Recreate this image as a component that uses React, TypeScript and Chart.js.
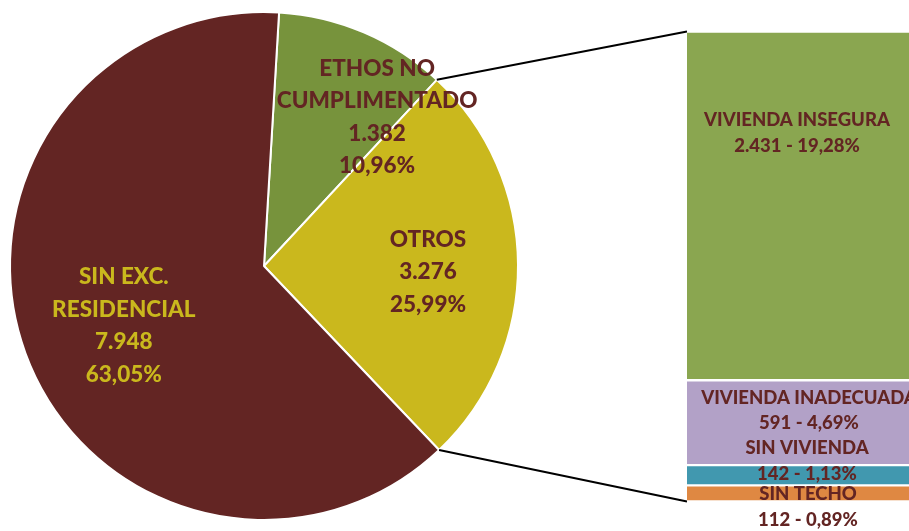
import React, { useEffect, useRef } from "react";
import { Chart, registerables } from "chart.js";

Chart.register(...registerables);

// ---- data ----
const pieCategories: string[][] = [["ETHOS NO", "CUMPLIMENTADO"], ["OTROS"], ["SIN EXC.", "RESIDENCIAL"]];
const pieValues: number[] = [1382, 3276, 7948];
const barCategories: string[] = ["SIN TECHO", "SIN VIVIENDA", "VIVIENDA INADECUADA", "VIVIENDA INSEGURA"];
const barValues: number[] = [112, 142, 591, 2431];

// ---- styles ----
const pieColors = ["#77933c", "#cab81d", "#632523"];
const pieTextColors = ["#632523", "#632523", "#cab81d"];
const barColors = ["#df8842", "#4198af", "#b2a1c7", "#8aa650"];
const TEXT_DARK = "#632523";
const FONT = "Lato, 'DejaVu Sans', sans-serif";
const W = 909;
const H = 531;
const BAR_LEFT = 687;
const BAR_WIDTH = 236;

// label anchor tweaks: [radius fraction, angle shift deg]
const pieLabelAnchors = [
  [0.736, 14.1],
  [0.646, 2.4],
  [0.6, -3],
];
// bar label tweaks: [dx, dy] relative to segment centre
const barLabelOffsets = [
  [3, 13.5],
  [2, -14],
  [4, -12],
  [-8, -73],
];

const total = pieValues.reduce((a, b) => a + b, 0);
const fmt = (n: number) => String(n).replace(/\B(?=(\d{3})+(?!\d))/g, ".");
const pct = (v: number) => ((v / total) * 100).toFixed(2).replace(".", ",") + "%";

export default function App() {
  const pieRef = useRef<HTMLCanvasElement | null>(null);
  const barRef = useRef<HTMLCanvasElement | null>(null);

  useEffect(() => {
    if (!pieRef.current || !barRef.current) return;

    const barLabelPlugin = {
      id: "barLabels",
      afterDatasetsDraw(chart: any) {
        const ctx = chart.ctx;
        ctx.save();
        ctx.font = `900 18.5px ${FONT}`;
        ctx.fillStyle = TEXT_DARK;
        ctx.textAlign = "center";
        ctx.textBaseline = "middle";
        const lh = 25.5;
        chart.data.datasets.forEach((ds: any, i: number) => {
          const el = chart.getDatasetMeta(i).data[0];
          if (!el) return;
          const cy = (el.y + el.base) / 2 + barLabelOffsets[i][1];
          const cx = el.x + barLabelOffsets[i][0];
          const lines = [ds.label, `${fmt(ds.data[0])} - ${pct(ds.data[0])}`];
          lines.forEach((t, k) => {
            ctx.fillText(t, cx, cy + (k - (lines.length - 1) / 2) * lh);
          });
        });
        ctx.restore();
      },
    };

    const barChart = new Chart(barRef.current, {
      type: "bar",
      data: {
        labels: [""],
        datasets: barCategories.map((c, i) => ({
          label: c,
          data: [barValues[i]],
          backgroundColor: barColors[i],
          borderColor: "#ffffff",
          borderWidth: { top: 1.5, bottom: 1.5, left: 0, right: 0 },
          borderSkipped: false,
          barPercentage: 1,
          categoryPercentage: 1,
        })),
      },
      options: {
        animation: false,
        responsive: false,
        layout: { padding: { top: 31.5, bottom: 29.5, left: 0, right: 0 } },
        plugins: { legend: { display: false }, tooltip: { enabled: false }, title: { display: false } },
        scales: {
          x: { stacked: true, display: false },
          y: { stacked: true, display: false, min: 0, max: barValues.reduce((a, b) => a + b, 0) },
        },
      },
      plugins: [barLabelPlugin],
    } as any);

    const pieExtras = {
      id: "pieExtras",
      afterDatasetsDraw(chart: any) {
        const ctx = chart.ctx;
        const meta = chart.getDatasetMeta(0);
        ctx.save();
        // connector lines from OTROS slice to the bar
        const arc = meta.data[1];
        const bm = barChart.getDatasetMeta(barValues.length - 1).data[0] as any;
        const bb = barChart.getDatasetMeta(0).data[0] as any;
        if (arc && bm && bb) {
          const r = arc.outerRadius;
          const p1 = [arc.x + r * Math.cos(arc.startAngle), arc.y + r * Math.sin(arc.startAngle)];
          const p2 = [arc.x + r * Math.cos(arc.endAngle), arc.y + r * Math.sin(arc.endAngle)];
          const left = BAR_LEFT + bm.x - bm.width / 2;
          ctx.strokeStyle = "#000";
          ctx.lineWidth = 2;
          ctx.beginPath();
          ctx.moveTo(p1[0], p1[1]);
          ctx.lineTo(left, bm.y);
          ctx.moveTo(p2[0], p2[1]);
          ctx.lineTo(left, bb.base);
          ctx.stroke();
        }
        // labels
        ctx.font = `900 22.5px ${FONT}`;
        ctx.textAlign = "center";
        ctx.textBaseline = "middle";
        const lh = 32.5;
        meta.data.forEach((a: any, i: number) => {
          const mid = (a.startAngle + a.endAngle) / 2 + (pieLabelAnchors[i][1] * Math.PI) / 180;
          const rr = a.outerRadius * pieLabelAnchors[i][0];
          const cx = a.x + rr * Math.cos(mid);
          const cy = a.y + rr * Math.sin(mid);
          const v = pieValues[i];
          const lines = [...pieCategories[i], fmt(v), pct(v)];
          ctx.fillStyle = pieTextColors[i];
          lines.forEach((t, k) => {
            ctx.fillText(t, cx, cy + (k - (lines.length - 1) / 2) * lh);
          });
        });
        ctx.restore();
      },
    };

    const pieChart = new Chart(pieRef.current, {
      type: "pie",
      data: {
        labels: pieCategories,
        datasets: [
          {
            data: pieValues,
            backgroundColor: pieColors,
            borderColor: "#ffffff",
            borderWidth: 2,
          },
        ],
      },
      options: {
        animation: false,
        responsive: false,
        rotation: 3.4,
        layout: { padding: { left: 9, top: 10, bottom: 9, right: W - 528 + 9 } },
        plugins: { legend: { display: false }, tooltip: { enabled: false }, title: { display: false } },
      },
      plugins: [pieExtras],
    } as any);

    return () => {
      pieChart.destroy();
      barChart.destroy();
    };
  }, []);

  return (
    <div
      style={{
        position: "absolute",
        left: 0,
        top: 0,
        width: W,
        height: H,
        overflow: "hidden",
        background: "#ffffff",
      }}
    >
      <canvas ref={pieRef} width={W} height={H} style={{ position: "absolute", left: 0, top: 0, width: W, height: H }} />
      <canvas
        ref={barRef}
        width={BAR_WIDTH}
        height={H}
        style={{ position: "absolute", left: BAR_LEFT, top: 0, width: BAR_WIDTH, height: H }}
      />
    </div>
  );
}
